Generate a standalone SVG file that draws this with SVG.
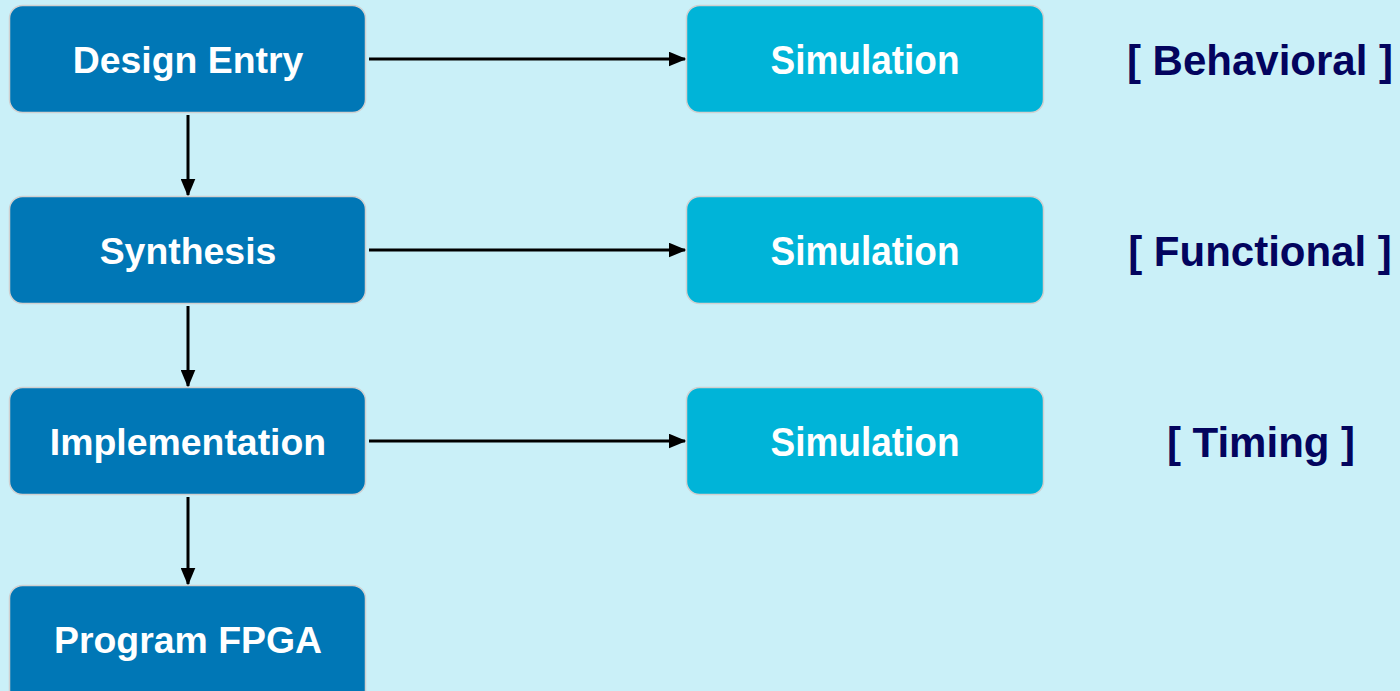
<svg xmlns="http://www.w3.org/2000/svg" width="1400" height="691" viewBox="0 0 1400 691">
  <style>
    .step { fill: #0077B6; stroke: #d0d0d0; stroke-width: 1.5; }
    .sim { fill: #00B4D8; stroke: #d0d0d0; stroke-width: 1.5; }
    .lbl { font-family: "Liberation Sans", Arial, sans-serif; font-weight: bold; fill: #ffffff; text-anchor: middle; }
    .big { font-size: 37.4px; }
    .note { font-family: "Liberation Sans", Arial, sans-serif; font-weight: bold; fill: #03045E; text-anchor: middle; font-size: 42px; }
    .wire { stroke: #000; stroke-width: 3; fill: none; marker-end: url(#head); }
  </style>
  <defs>
    <marker id="head" markerWidth="6" markerHeight="5" refX="5.5" refY="2.5" orient="auto" markerUnits="strokeWidth">
      <path d="M0,0 L6,2.5 L0,5 Z" fill="#000"/>
    </marker>
  </defs>
  <rect width="1400" height="691" fill="#CAF0F8"/>

  <g id="connectors">
    <line class="wire" x1="369" y1="59" x2="685" y2="59"/>
    <line class="wire" x1="369" y1="250" x2="685" y2="250"/>
    <line class="wire" x1="369" y1="441" x2="685" y2="441"/>
    <line class="wire" x1="188" y1="115" x2="188" y2="195"/>
    <line class="wire" x1="188" y1="306" x2="188" y2="386"/>
    <line class="wire" x1="188" y1="497" x2="188" y2="584"/>
  </g>

  <g id="design-entry">
    <rect class="step" x="9.5" y="5.5" width="356" height="107" rx="13"/>
    <text class="lbl big" x="188" y="73">Design Entry</text>
  </g>
  <g id="synthesis">
    <rect class="step" x="9.5" y="196.5" width="356" height="107" rx="13"/>
    <text class="lbl big" x="188" y="264">Synthesis</text>
  </g>
  <g id="implementation">
    <rect class="step" x="9.5" y="387.5" width="356" height="107" rx="13"/>
    <text class="lbl big" x="188" y="455">Implementation</text>
  </g>
  <g id="program-fpga">
    <rect class="step" x="9.5" y="585.5" width="356" height="120" rx="13"/>
    <text class="lbl big" x="188" y="653">Program FPGA</text>
  </g>

  <g id="sim-behavioral">
    <rect class="sim" x="686.5" y="5.5" width="357" height="107" rx="13"/>
    <text class="lbl" x="865" y="74" font-size="40" textLength="189" lengthAdjust="spacingAndGlyphs">Simulation</text>
  </g>
  <g id="sim-functional">
    <rect class="sim" x="686.5" y="196.5" width="357" height="107" rx="13"/>
    <text class="lbl" x="865" y="265" font-size="40" textLength="189" lengthAdjust="spacingAndGlyphs">Simulation</text>
  </g>
  <g id="sim-timing">
    <rect class="sim" x="686.5" y="387.5" width="357" height="107" rx="13"/>
    <text class="lbl" x="865" y="456" font-size="40" textLength="189" lengthAdjust="spacingAndGlyphs">Simulation</text>
  </g>

  <g id="label-behavioral"><text class="note" x="1260" y="75">[ Behavioral ]</text></g>
  <g id="label-functional"><text class="note" x="1260" y="266">[ Functional ]</text></g>
  <g id="label-timing"><text class="note" x="1261" y="457">[ Timing ]</text></g>
</svg>
